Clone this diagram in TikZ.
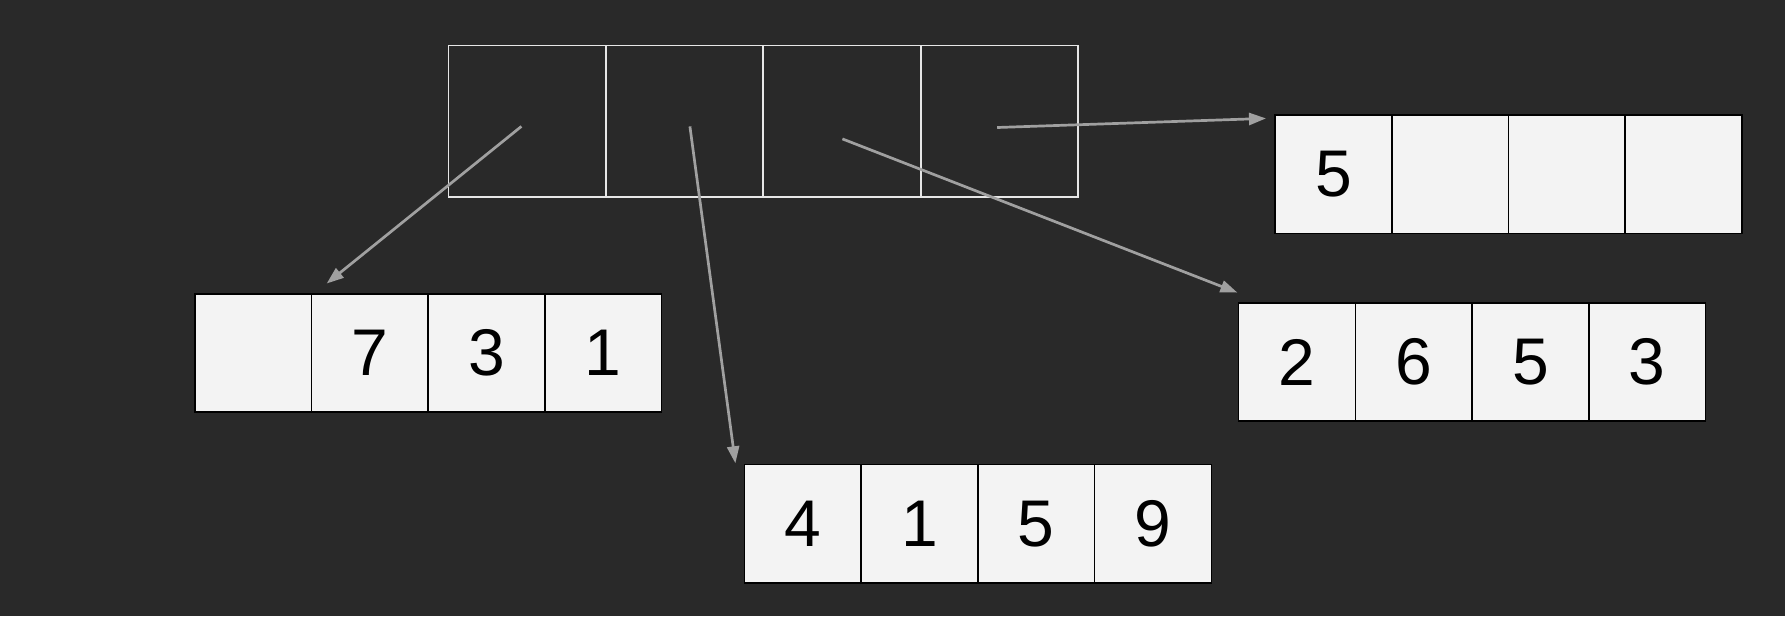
\documentclass[tikz,border=0pt]{standalone}
\usepackage{fontspec}
\setmainfont{Liberation Sans}
\usetikzlibrary{arrows.meta}
\definecolor{bg}{HTML}{292929}
\definecolor{cellfill}{HTML}{F3F3F3}
\definecolor{topline}{HTML}{E6E6E6}
\definecolor{arrowgray}{HTML}{A0A0A0}
\tikzset{
  cell/.style={draw=black, fill=cellfill, line width=1.6pt, minimum width=116.7pt, minimum height=118.4pt,
    inner sep=0pt, outer sep=0pt, anchor=north west, font=\fontsize{66}{66}\selectfont, text=black},
  tcell/.style={draw=topline, line width=1.9pt, minimum width=157.4pt, minimum height=151.4pt,
    inner sep=0pt, outer sep=0pt, anchor=north west},
  arr/.style={draw=arrowgray, line width=2.7pt, -{Triangle[length=17pt,width=12pt]}}
}
\begin{document}
\begin{tikzpicture}[x=1pt,y=-1pt]
\fill[bg] (0,0) rectangle (1785,616);
\useasboundingbox (0,0) rectangle (1785,616);
% top array
\node[tcell] (T1) at (448.5,45.5) {};
\node[tcell] (T2) at (T1.north east) {};
\node[tcell] (T3) at (T2.north east) {};
\node[tcell] (T4) at (T3.north east) {};
% left array
\node[cell] (L1) at (194.7,293.7) {};
\node[cell] (L2) at (L1.north east) {7};
\node[cell] (L3) at (L2.north east) {3};
\node[cell] (L4) at (L3.north east) {1};
% bottom array
\node[cell] (B1) at (744.5,464.5) {4};
\node[cell] (B2) at (B1.north east) {1};
\node[cell] (B3) at (B2.north east) {5};
\node[cell] (B4) at (B3.north east) {9};
% right upper array
\node[cell] (U1) at (1275,115) {5};
\node[cell] (U2) at (U1.north east) {};
\node[cell] (U3) at (U2.north east) {};
\node[cell] (U4) at (U3.north east) {};
% right lower array
\node[cell] (R1) at (1238.6,302.8) {2};
\node[cell] (R2) at (R1.north east) {6};
\node[cell] (R3) at (R2.north east) {5};
\node[cell] (R4) at (R3.north east) {3};
% arrows
\coordinate (s1) at (521.4,126.4);
\coordinate (e1) at (326.7,283.5);
\coordinate (s2) at (689.9,126.4);
\coordinate (e2) at (735.4,463.3);
\coordinate (s3) at (842.4,138.9);
\coordinate (e3) at (1237.4,292.6);
\coordinate (s4) at (997.2,127.5);
\coordinate (e4) at (1266,118.4);
\draw[arr] (s1) -- (e1);
\draw[arr] (s2) -- (e2);
\draw[arr] (s3) -- (e3);
\draw[arr] (s4) -- (e4);
\end{tikzpicture}
\end{document}
